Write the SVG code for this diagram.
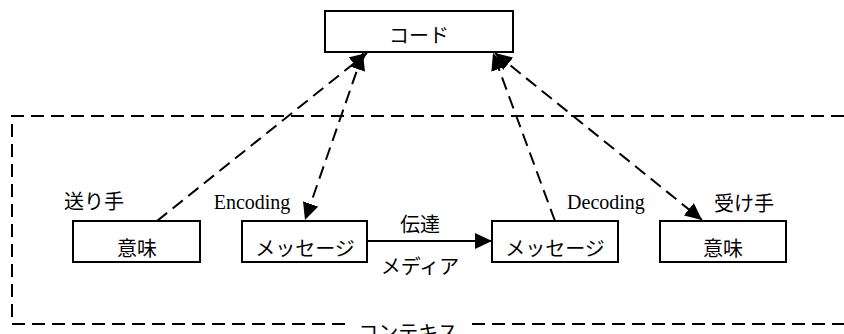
<svg xmlns="http://www.w3.org/2000/svg" width="844" height="334" viewBox="0 0 844 334">
<style>
.box{fill:#fff;stroke:#000;stroke-width:2}
.t{font-family:"Liberation Serif","Noto Sans CJK JP",serif;font-size:20px;fill:#000;text-anchor:middle}
.dash{fill:none;stroke:#000;stroke-width:2;stroke-dasharray:13,7}
.solid{fill:none;stroke:#000;stroke-width:2}
</style>
<defs>
<marker id="ah" markerUnits="userSpaceOnUse" markerWidth="18" markerHeight="16" refX="17" refY="8" orient="auto-start-reverse">
<path d="M0,0 L17,8 L0,16 z" fill="#000" stroke="none"/>
</marker>
</defs>
<g id="context">
<path class="dash" d="M844,116 L12,116 L12,324 L345,324"/>
<path class="dash" d="M472,324 L844,324"/>
<text class="t" x="408" y="340">コンテキス</text>
</g>
<g id="code">
<rect class="box" x="325" y="11" width="188" height="41"/>
<text class="t" x="419" y="43">コード</text>
</g>
<g id="sender">
<text class="t" x="94" y="209">送り手</text>
<rect class="box" x="73" y="221" width="127" height="41"/>
<text class="t" x="137" y="256">意味</text>
</g>
<g id="msg1">
<text class="t" x="252" y="209">Encoding</text>
<rect class="box" x="242" y="221" width="125" height="41"/>
<text class="t" x="305" y="256">メッセージ</text>
</g>
<g id="msg2">
<text class="t" x="606" y="209">Decoding</text>
<rect class="box" x="492" y="221" width="126" height="41"/>
<text class="t" x="555" y="256">メッセージ</text>
</g>
<g id="receiver">
<text class="t" x="744" y="211">受け手</text>
<rect class="box" x="660" y="221" width="126" height="41"/>
<text class="t" x="723" y="256">意味</text>
</g>
<g id="connectors">
<line class="dash" x1="157" y1="221" x2="367" y2="53" marker-end="url(#ah)"/>
<line class="dash" x1="363" y1="53" x2="305" y2="220" marker-start="url(#ah)" marker-end="url(#ah)"/>
<line class="dash" x1="555" y1="221" x2="493" y2="53" marker-end="url(#ah)"/>
<line class="dash" x1="495" y1="53" x2="702" y2="220" marker-start="url(#ah)" marker-end="url(#ah)"/>
<line class="solid" x1="367" y1="241" x2="492" y2="241" marker-end="url(#ah)"/>
<text class="t" x="420" y="232">伝達</text>
<text class="t" x="420" y="274">メディア</text>
</g>
</svg>
